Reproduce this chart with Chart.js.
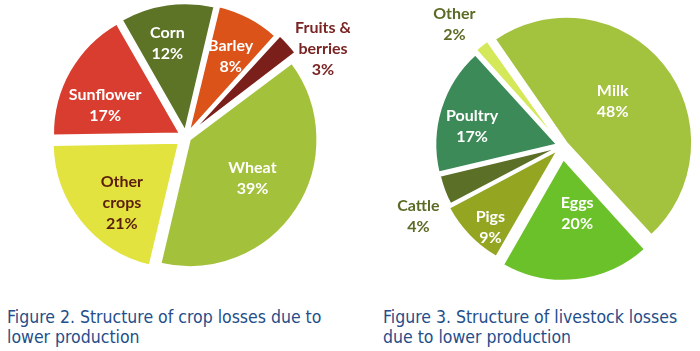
<!DOCTYPE html>
<html>
<head>
<meta charset="utf-8">
<script src="https://cdn.jsdelivr.net/npm/chart.js@4.4.1/dist/chart.umd.min.js"></script>
<style>
  html, body { margin: 0; padding: 0; background: #fff; }
  #wrap { position: relative; width: 700px; height: 351px; overflow: hidden; }
  .pie { position: absolute; top: 0; width: 350px; height: 300px; }
  .caption {
    position: absolute; top: 307px;
    font: 17.5px "DejaVu Sans Condensed", sans-serif;
    line-height: 20px; color: #234e8a; white-space: nowrap;
  }
</style>
</head>
<body>
<div id="wrap">
  <div class="pie" style="left:0"><canvas id="cropChart"></canvas></div>
  <div class="pie" style="left:350px"><canvas id="livestockChart"></canvas></div>
  <div class="caption" style="left:7px">Figure 2. Structure of crop losses due to<br>lower production</div>
  <div class="caption" style="left:383px">Figure 3. Structure of livestock losses<br>due to lower production</div>
</div>
<script>
/* Figure 2: crop losses, % */
const cropLabels = ['Wheat', ['Other', 'crops'], 'Sunflower', 'Corn', 'Barley', ['Fruits &', 'berries']];
const cropValues = [39, 21, 17, 12, 8, 3];

/* Figure 3: livestock losses, % */
const livestockLabels = ['Milk', 'Eggs', 'Pigs', 'Cattle', 'Poultry', 'Other'];
const livestockValues = [48, 20, 9, 4, 17, 2];

/* Draws "name / value%" labels at the slice's mid angle. */
const sliceLabels = {
  id: 'sliceLabels',
  afterDatasetsDraw(chart, args, opts) {
    const ctx = chart.ctx;
    const meta = chart.getDatasetMeta(0);
    const values = chart.data.datasets[0].data;
    ctx.save();
    ctx.font = 'bold 16px Lato, sans-serif';
    ctx.textAlign = 'center';
    ctx.textBaseline = 'middle';
    meta.data.forEach((arc, i) => {
      const p = arc.getProps(['x', 'y', 'startAngle', 'endAngle', 'outerRadius']);
      const mid = (p.startAngle + p.endAngle) / 2 + (opts.shift[i] || 0) * Math.PI / 180;
      const r = p.outerRadius * opts.dist[i];
      const cx = p.x + Math.cos(mid) * r;
      const cy = p.y + Math.sin(mid) * r;
      const name = chart.data.labels[i];
      const lines = (Array.isArray(name) ? name : [name]).concat(values[i] + '%');
      const lh = 21;
      ctx.fillStyle = opts.colors[i];
      lines.forEach((t, k) => {
        ctx.fillText(t, cx, cy + (k - (lines.length - 1) / 2) * lh);
      });
    });
    ctx.restore();
  }
};

function makePie(el, labels, values, cfg) {
  return new Chart(el, {
    type: 'pie',
    data: {
      labels,
      datasets: [{
        data: values,
        backgroundColor: cfg.colors,
        borderColor: '#ffffff',
        borderWidth: 2,
        offset: cfg.offset,
        clip: false,
      }],
    },
    options: {
      responsive: true,
      maintainAspectRatio: false,
      animation: false,
      rotation: cfg.rotation,
      radius: cfg.radius,
      layout: { padding: cfg.padding },
      plugins: {
        legend: { display: false },
        tooltip: { enabled: false },
        sliceLabels: cfg.labels,
      },
    },
    plugins: [sliceLabels],
  });
}

// note: Chart.js moves a slice by roughly offset/4 .. offset/2
makePie(document.getElementById('cropChart'), cropLabels, cropValues, {
  colors: ['#a3c13b', '#e3e33f', '#d83d2f', '#5d7426', '#dc5319', '#7b1f1b'],
  offset: [18, 36, 28, 24, 24, 27],
  rotation: 53,
  radius: 126,
  padding: { left: 22, right: 0, top: 0, bottom: 26 },
  labels: {
    dist: [0.62, 0.73, 0.69, 0.76, 0.735, 1.295],
    shift: [-1.5, -7, -8, -3, 1, 9.5],
    colors: ['#ffffff', '#5a1f0c', '#ffffff', '#ffffff', '#ffffff', '#7a2424'],
  },
});

makePie(document.getElementById('livestockChart'), livestockLabels, livestockValues, {
  colors: ['#a3c23e', '#6bc12a', '#93a521', '#5b6f26', '#3c8a58', '#d5e85a'],
  offset: [22, 53, 22, 11, 21, 17],
  rotation: 325,
  radius: 121,
  padding: { left: 74, right: 0, top: 0, bottom: 8 },
  labels: {
    dist: [0.56, 0.57, 0.895, 1.32, 0.76, 1.34],
    shift: [-3, -6.5, -4.6, -5.4, -5, -3],
    colors: ['#ffffff', '#ffffff', '#ffffff', '#5b6a24', '#ffffff', '#5b6a24'],
  },
});
</script>
</body>
</html>
